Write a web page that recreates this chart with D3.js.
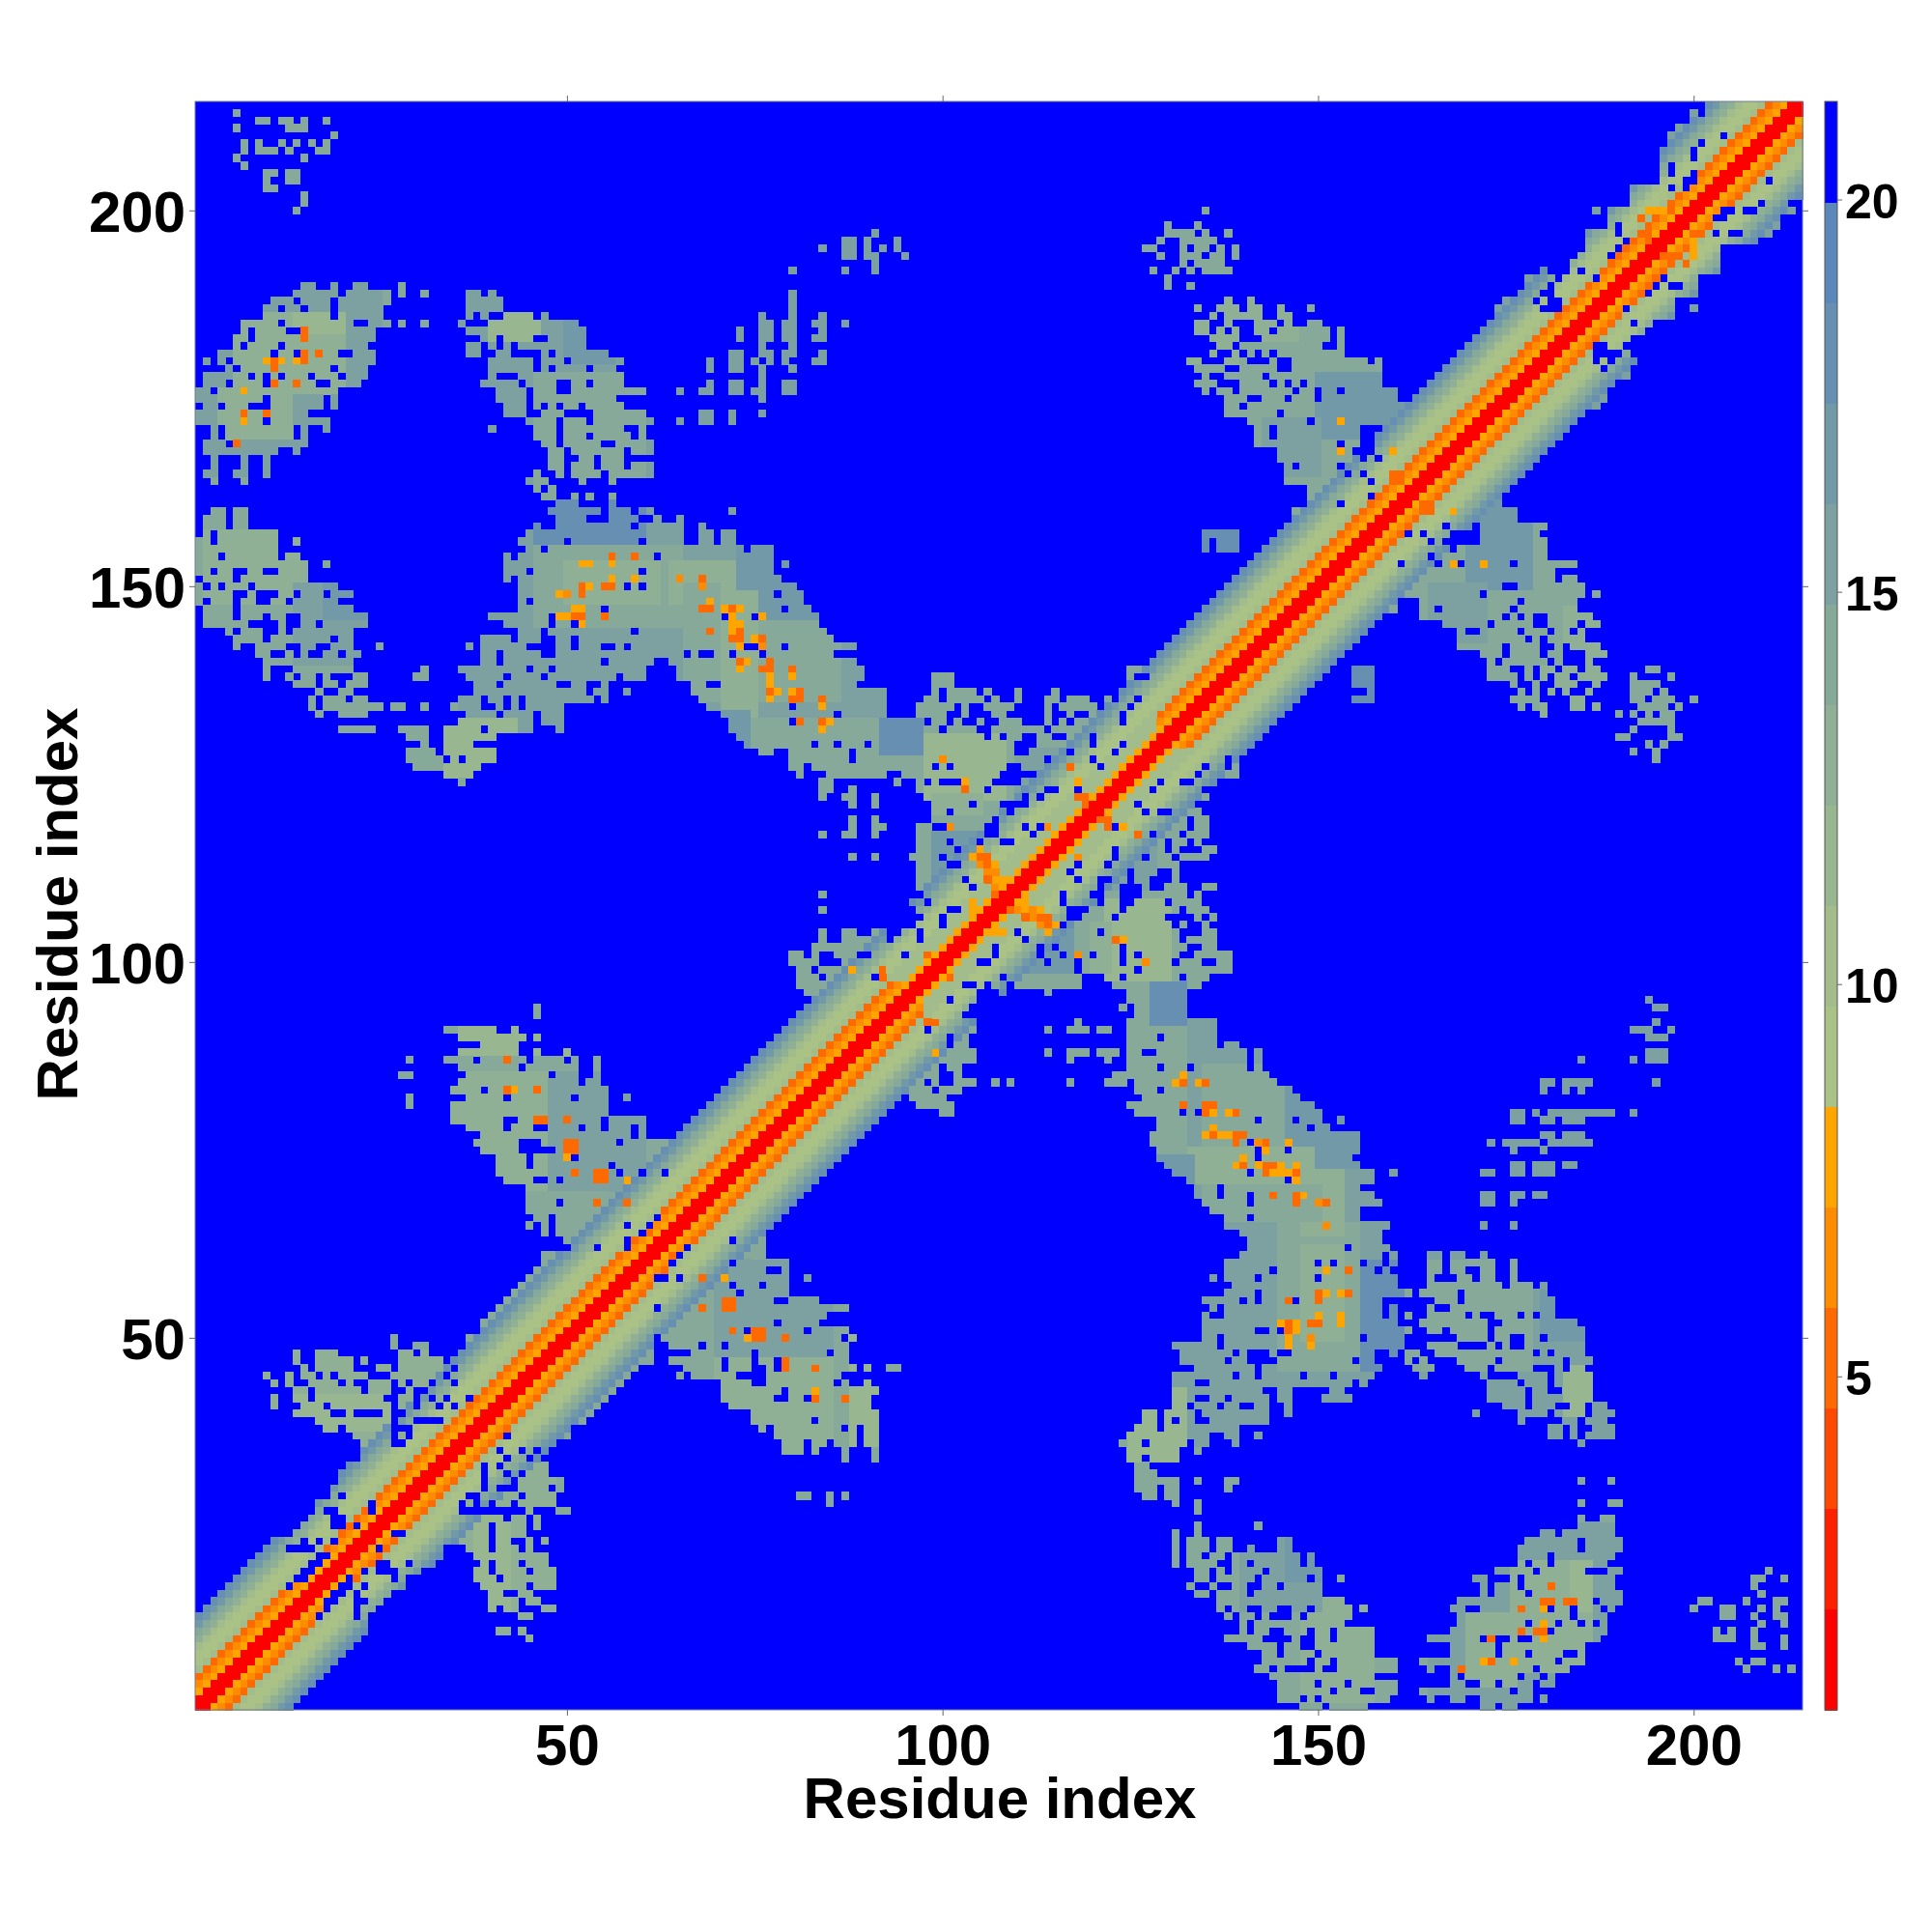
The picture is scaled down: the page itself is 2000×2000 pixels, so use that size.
<!DOCTYPE html>
<html><head><meta charset="utf-8">
<script src="https://cdn.jsdelivr.net/npm/d3@7"></script>
<style>html,body{margin:0;background:#fff}text{font-family:"Liberation Sans",Arial,sans-serif;font-weight:bold;fill:#000}</style>
</head><body><div id="chart"></div>
<script>
const residueCount = 214;
const axisTicks = [50,100,150,200];
const colorbarTicks = [5,10,15,20];
const axisTitle = "Residue index";
// 16 colour levels, bottom to top
const levelColors = ["#ff0000","#ff2000","#ff4800","#ff6a00","#ff8c00","#ffa500","#abc287","#a2bd8b","#98b68f","#8fb094","#86a99a","#7ca1a0","#7299a8","#668fb1","#5b87ba","#0000ff"];
const colorbarDomain = [0.75,21.25];
// level by distance from the diagonal, read along a row
const bandLevels = [0,0,5,4,3,7,6,6,7,9,10,12,13];
const narrowCoreLevels = [0,0,5,7,7];
// [from mid-residue, to mid-residue, widest offset drawn as an unbroken band]
const bandRuns = [[0,18,12],[18.5,44.5,4],[45,70,13],[70.5,92,12],[92.5,132.5,4],[133,214,12]];
const narrowCoreRun = [96,130];
// upper-left half of the map, "row: column spans"
const clusterRows = [
"213:6","212:9-10,12-13,15,18","211:6,13-15","210:19","209:7,9,12,14,16,18","208:7,9-11,13,17-18","207:6,15","206:7","205:10-11,13-14","204:10,13-14","203:10-11","202:15","201:15","200:14",
"190:15-16,19,22-23,28","189:14-19,21-26,28,31,37-38,40","188:11-13,15-18,20-26,37-41","187:10-11,13-14,16-18,20-25,37-41","186:10-18,20-25,37,39,42-45,47","185:7-11,13-21,24-26,28,31,36,40-51","184:7,9-12,15-24,37-39,40-52","183:6-7,9-24,39-40,42-45,48-52","182:6,8-11,13-23,37-38,40,42,44-52","181:4-10,12-13,15-19,22-24,37-38,41-42,47,49-55","180:2,4,6-24,40-45,47-49,51-57","179:5,7-18,20-23,40-45,47,49-52,54-56","178:2-7,9,11,13-15,17-19,21-23,40,44-57","177:2-4,6-9,11-16,19-22,39-43,45-48,51-52,54-57","176:1-2,4-19,41-44,46-48,51-60","175:1-9,11-17,19,41-44,46-56","174:2-3,5-7,11-17,19,42-44,46,48,50-51,53-57","173:1-15,42-44,47-49,54-60","172:1-9,11-18,45-48,50-52,54-61","171:3,5-13,15,18,40,46-48,50-57,60","170:3,5-13,15,46-48,50-52,54-58,60","169:2-4,6-15,47-48,50-54,57-61","168:2-11,14,48-49,51-57,59-61","167:3,7,10,48-49,52-53,55-57","166:3,7,10,48-49,51-53,55-57,59-61","165:2-3,6-7,10,46,49,51-54,56-61","164:3,7,45-47,52,56","163:46,48","162:47-48,51,53,56","161:49-51,56",
"160:3-4,6-7,48-54,56-58,60-61,72","159:2-4,6-7,49-52,56-59,62,65","158:2-4,6-7,46,49-58,60-65,68","157:2,4-11,45-65,68-69,71-72","156:1-2,4-11,14,44-49,51-59,61-65,68-69,71-72","155:1-11,45-46,48-73,75-77","154:1-3,5-11,13-14,42,44-61,63-77","153:1-15,18,42-77,79","152:1-2,4-5,8-9,12-15,42-44,46-59,61-77","151:2-5,7-15,42,44-78","150:1,3,5-7,9-19,44-57,59,61-80","149:1-5,8,12-13,15-17,19-21,44-77,79-81","148:1,3-5,7-8,11-12,14-19,44,46-81","147:2-5,7-21,44-54,56-78,80-82","146:2-5,7-9,11-12,15-23,40-47,49-70,72-74,76-83","145:2-7,12,15-16,18-23,42-47,49-50,52-83","144:5,7-9,12,14-21,44-46,48-58,60-84","143:6-9,11-18,20-21,39-42,44-46,49-50,52-85","142:6,9-12,15-16,19-21,25,37,39-44,49-50,52-54,57,59-73,76-78,80-88","141:9-10,13,15,18-19,21-22,39-40,42-46,49-65,67,70-71,73-75,77-85","140:10-21,39-40,42-54,56-61,64-88","139:10,14-21,31,36-44,46-47,49-60,65-89,125-126","138:10,13,15-16,18,22-23,30-31,37-41,43-46,48-56,58-60,65-89,99-101,125","137:14-16,18-19,21-23,38-40,42-48,51-52,55,67-68,71-88,99-101,125-132","136:17,20-21,38-52,54-55,58,67-92,99,101-104,106,110,115,124-131","135:16,18-20,22-23,36-38,40-41,43,45-53,55,68-92,98-99,101-105,107,110,114-115,117-119,122,124-125,127-130","134:16,18-25,27-28,31,35-38,41,43,45-49,69-79,81-92,97-101,103,106-109,114,116-120,122-124,126-129","133:17,20-23,37-40,42-45,47-49,71-85,87-92,97-100,103,107-108,114,117,120-123,125-128","132:36-45,47-49,72-79,81-97,99-100,102,105,108-110,114,116,118-123,125-127","131:20-24,28-31,34-38,40-45,49,72-99,101-104,107-113,115-126","130:29-31,34-40,73-105,107,109-110,113-114,117-119,121-125","129:31,34-37,74-82,84-85,87-89,91-109,113-119,121-123","128:29-32,34-40,76-77,80-87,89-109,112-116,118-122","127:29-33,35,37-40,80-87,89-113,115-119,121-122","126:30-38,80-81,83-98,100,102-108,111-116,118-120","125:34-37,81,85-92,95-107,113-120","124:36,84-85,94,97,99,103-106,111-119","123:84-85,88,97-105,107-113,116-117","122:84,87-88,91,98-110,112,114-117","121:88,91,99-103,105-107,112-116","120:99-100,102-108,110-115","119:88,91,99-106,108-114","118:88,91-92,97-98,101-105,108-110,112","117:84,87-88,91,97-105,108-111","116:97-100,102-104,106-107,110-111","115:97-101,103-110","114:88,91,96-99,101-109","113:97-100,103-108","112:97-107","111:97-102,104-106","110:97-103,105","109:84,98-104","108:96-97,99-103","107:84,97-100","106:98-99,101","105:97-99",
"104:84,87-88,91-92,95-96,98-99","103:84,87-92,94-96,98","102:83-97","101:80-81,83,86-88,91-94,96","100:80-83,87-95","99:81-82,84-94","98:81-83,85-90,93","97:81-92","96:82-91","95:83-90","94:46,82-89","93:46,81-88","92:80-87",
"91:34-40,43","90:36-44,46","89:39-43","88:36-43,46,50","87:29,34-37,39-44,46-49,51,54","86:36-43,45-51,54","85:28-29,37-47,49-51,54","84:36-51,53-54","83:35-38,40-55","82:29,37-41,43-50,52-55,58","81:29,35-55","80:35-55","79:35-41,44-54,56-60","78:37-41,43-45,48-51,53-54,56-58,60","77:39-58,60","76:38-43,47-56,58-62","75:39-43,49-63","74:41-44,46-50,52-62","73:41-44,46-55,57-59","72:41-56,58","71:42-45,48,50-57","70:45-56","69:45-55","68:45-48,50-54","67:45-53","66:46-47,49-52","65:45,47,49-51","64:47,49-50","61:47",
"50:27,37-45","49:27,30-31,37-44","48:14,17-19,28-29,31,36-43","47:14,17-21,23,28-33,35-42","46:15,17-21,25-26,28-34,36-41","45:10,13,15-16,18,20-23,27-33,35-40","44:11,13,16-19,21,24-26,28,30-31,33-34,36-39","43:14-15,17-22,24-26,29,32-38","42:11,14-15,17-25,28-29,31,33,35-36","41:11,15-17,19-26,28-29,31-32,34,36","40:14-18,21,26,29-35","39:17-26,28-29,34","38:18-19,21-26,30-33","37:22-26,28,30-32","36:23-26,29-31","35:23-30","34:23-29","33:21-28","32:20-27","31:20-26","30:19-25","29:19,21-24","28:17-23","27:17,20-22","26:16-18,21","25:15-18,21","24:14-19","23:14,16,18","22:17","21:16",
"200:135,187","198:130,134","197:130-133,135,138","196:129,132-136","195:127-128,132,134-135,137,139","194:129,132-134,136-137,139","193:132,134-137","192:128,131,133,135-138,180","191:130,178","190:130,133,178-179","189:177","188:138,141,175-176","187:134,137-139,141-142,145,149,174","186:136,138-142,145-146","185:134-135,138,142-144,146,149-150","184:134-135,137,139,142-143,145-151,153","183:136-139,143-151,153","182:137-138,140-150,153","181:136,139,141,143,145-153","180:133-134,138-140,144,147-156,158","179:134-137,140-144,147-158","178:135,138-142,144-158","177:134-136,140-143,145,147,149-158","176:135,137-138,140-146,148-149,151-152,154-160","175:138-140,143-145,147-149,151-160","174:138-139,141-161","173:138-144,146-160","172:141-148,150-159","171:142-143,145-155","170:142-143,145-155","169:142-152,154-155","168:145-154","167:145-154","166:146,148-152","165:146-152","164:146-151","163:149-150","162:149","160:147","157:135-139","156:135,137-139","155:135,137-139",
"213:200","212:200","211:198-199","210:197-198","209:197",
"195:84,87-88,90,92,94","194:87-88,90-91,95","193:91","192:80,87,91","197:91","196:87-88,90,94","189:80","188:80","187:80","186:76,80,84","185:76-77,79-80,83-84,87","184:73,76-77,79-80,84","183:73,76-77,79-80,83-84","182:76,80","181:72-73,76-77,79-80,84","180:69,72-73,75,77,79,83-84","179:69,72-73,76,80","178:76","177:69,72-73,76,79-80","176:65,68-69,72-73,75-76,79-80","175:76","173:68-69,72,76","172:65,68-69,72"
];
// [first column, first row, last column, last row, level] tone read from the clusters
const tonePatches = [
[60,170,100,200,11],[1,165,25,190,11],[4,170,13,176,9],[6,176,20,186,9],[14,184,20,186,8],
[36,160,62,190,11],[40,183,46,186,8],[46,162,60,178,10],[50,180,56,186,12],
[1,137,25,160,10],[2,148,15,157,9],[14,140,23,150,11],[18,146,25,150,12],
[36,125,92,161,11],[34,125,43,132,8],[46,145,65,155,10],[50,148,62,153,9],[64,148,72,153,9],[66,135,86,150,10],[71,132,75,150,9],[74,125,92,132,10],[46,156,60,161,13],[66,128,74,133,12],[76,146,84,154,12],[92,128,97,132,13],[73,150,78,156,12],
[98,105,126,137,10],[98,122,108,130,8],[99,120,105,122,9],[99,106,105,117,12],[110,122,118,128,11],[125,131,130,137,11],
[80,92,98,104,10],[34,62,60,91,10],[35,70,50,85,9],[36,88,50,91,8],[48,70,60,85,11],
[10,35,36,48,9],[14,38,26,42,8],
[133,155,160,200,10],[133,180,147,188,9],[140,172,152,182,10],[150,170,162,178,12],[143,165,150,172,11],[135,155,139,157,13],[177,187,182,192,12],[170,185,200,214,11]
];
// [column, row, level]
const hotCells = [
[15,184,3],[15,183,3],[15,181,3],[17,181,3],[10,180,5],[11,180,3],[12,180,5],[14,180,5],[15,180,3],[11,179,3],[11,177,3],[14,177,3],[7,176,5],[7,173,3],[10,173,3],[7,172,5],[6,169,3],
[56,154,3],[59,154,3],[52,153,5],[53,153,5],[56,153,5],[56,151,5],[59,151,5],[52,150,3],[53,150,5],[55,150,3],[56,150,3],[49,149,5],[50,149,4],[52,149,3],[51,147,5],[52,147,5],[49,146,5],[50,146,5],[51,146,3],[52,146,3],[55,146,3],[52,145,5],
[65,151,4],[68,151,3],[68,150,4],[69,148,5],[68,147,3],[69,147,3],[71,147,5],[72,147,3],[73,147,5],[72,146,5],[76,146,5],[72,145,5],[73,145,5],[69,144,3],[72,144,5],[73,144,3],[72,143,3],[73,143,3],[75,143,5],[76,143,3],[73,142,5],[76,142,4],[73,140,3],[74,140,5],[77,140,3],[73,139,5],[76,139,3],[77,139,3],[80,139,3],[77,138,5],[80,138,5],[77,137,5],[77,136,3],[78,136,5],[80,136,5],[81,136,3],[77,135,5],[80,135,3],[81,135,3],[84,135,3],[84,134,5],[81,132,3],[84,132,3],[85,132,5],[84,131,5],
[100,127,4],[103,124,5],[103,123,3],[117,126,3],[118,124,5],[118,122,3],[119,122,3],[119,121,3],[101,118,4],[114,118,4],[105,115,5],[104,114,5],[105,114,3],[106,114,3],[105,113,4],[106,113,3],[107,113,5],[106,112,4],[107,112,4],[106,111,3],[107,111,5],[108,111,5],[109,111,5],[107,110,4],[108,110,5],[107,109,3],[104,108,5],[106,108,5],[104,107,5],[104,106,5],[88,99,5],[92,99,3],[92,98,3],[98,101,3],[98,100,5],
[42,87,3],[42,83,3],[43,83,5],[46,83,3],[46,79,3],[47,79,3],[50,79,3],[50,76,3],[51,76,3],[50,75,3],[51,75,3],[50,74,5],[51,72,3],[54,72,3],[55,72,3],[54,71,3],[55,71,3],[58,71,5],[54,68,3],[58,68,3],[61,64,3],
[153,172,5],[153,168,5],[160,168,5],[160,165,3],[161,165,3],[160,164,3],[161,164,3],
[194,200,5],[195,200,5],[196,200,5],[197,200,3],[198,200,5],[193,199,3],[193,197,3],[194,197,3],[195,197,5],[194,196,3],[196,198,5]
];
// blue cells inside the band, as [row, column]
const blueHoles = [
[17,13],[18,14],[18,15],[19,15],[19,16],[20,16],[20,17],[21,17],[21,18],[22,13],[22,14],[22,15],[22,16],[23,15],[23,17],[23,19],[24,12],[25,22],[27,24],[28,24],
[66,62],[65,58],[65,61],[64,60],[63,58],[62,49],[62,50],[62,54],[62,58],[72,60],[72,63],
[161,153],[162,157],[164,157],[165,154],[165,156],[167,156],[167,158],[168,156],[168,157],[169,157],
[204,192],[204,193],[204,194],[204,195],[205,193],[205,194],[205,195],[206,194],[206,195],[207,195],[203,191],[202,190],[202,191],[201,189],[201,190],[201,191],[200,188],[199,187],[199,188],[198,186],[198,187],[198,188],[197,185],[196,184],[196,185],[195,183],[195,184],[195,185],[194,182],[194,183],[194,184],[193,181],[193,182],[193,183],[192,181],[192,182],[192,183],[191,182],[190,181],[189,180],[189,181],[188,179],[188,181],[188,182],[187,180],[187,181],[187,182],
[192,185],[191,187],[194,189],[195,190],[196,191],[197,190],[198,190],[210,204],[209,201],[208,200],[207,200],[206,197],[205,197],[205,200],[204,199],[204,200],[203,197],[203,199],[213,201]
];

const plot = {left:202, right:1866, top:105, bottom:1770};
const bar = {left:1889, right:1902};
const svg = d3.select("#chart").append("svg").attr("width",2000).attr("height",2000);
const x = d3.scaleLinear().domain([0.5,residueCount+0.5]).range([plot.left,plot.right]);
const y = d3.scaleLinear().domain([0.5,residueCount+0.5]).range([plot.bottom,plot.top]);
const barY = d3.scaleLinear().domain(colorbarDomain).range([plot.bottom,plot.top]);
const color = d3.scaleOrdinal(d3.range(16),levelColors);

const grid = new Map();
const key = (r,c)=>r*1000+c;
function patchLevel(c,r){
  let lv = 10;
  tonePatches.forEach(p=>{ if(c>=p[0]&&c<=p[2]&&r>=p[1]&&r<=p[3]) lv=p[4]; });
  return lv;
}
const inNarrow = m => m>=narrowCoreRun[0] && m<=narrowCoreRun[1];
function toneAt(c,r){
  const off = r-c, m=(r+c)/2;
  if(inNarrow(m) && off<narrowCoreLevels.length) return narrowCoreLevels[off];
  return off<bandLevels.length ? bandLevels[off] : patchLevel(c,r);
}
for(let r=1;r<=residueCount;r++) for(let c=Math.max(1,r-13);c<=r;c++){
  const m=(r+c)/2, off=r-c;
  const run = bandRuns.find(b=>m>=b[0]&&m<=b[1]);
  if(run && off<=run[2]) grid.set(key(r,c),toneAt(c,r));
}
clusterRows.forEach(line=>{
  const [rowText,spec]=line.split(":");
  const r=+rowText;
  spec.split(",").forEach(s=>{
    const [a,b]=s.split("-").map(Number);
    for(let c=a;c<=(b||a);c++) if(c<r) grid.set(key(r,c),toneAt(c,r));
  });
});
blueHoles.forEach(h=>grid.delete(key(h[0],h[1])));
hotCells.forEach(h=>grid.set(key(h[1],h[0]),h[2]));
const cells=[];
grid.forEach((lv,k)=>{
  const r=Math.floor(k/1000), c=k%1000;
  cells.push({c,r,lv});
  if(r!==c) cells.push({c:r,r:c,lv});
});

svg.append("rect").attr("x",x(0.5)).attr("y",y(residueCount+0.5)).attr("width",x(residueCount+0.5)-x(0.5)).attr("height",y(0.5)-y(residueCount+0.5)).attr("fill",levelColors[15]);
svg.append("g").attr("shape-rendering","crispEdges").selectAll("rect").data(cells).join("rect")
  .attr("x",d=>x(d.c-0.5)).attr("y",d=>y(d.r+0.5))
  .attr("width",d=>x(d.c+0.5)-x(d.c-0.5)+0.5).attr("height",d=>y(d.r-0.5)-y(d.r+0.5)+0.5)
  .attr("fill",d=>color(d.lv));

svg.append("rect").attr("x",plot.left).attr("y",plot.top).attr("width",plot.right-plot.left).attr("height",plot.bottom-plot.top).attr("fill","none").attr("stroke","#6f7f8f").attr("stroke-width",1);

const tickStroke="#666";
const styleAxis=(g,fs)=>{g.select(".domain").remove();g.selectAll("line").attr("stroke",tickStroke).attr("stroke-width",1);g.selectAll("text").attr("font-size",fs).attr("fill","#000");};
svg.append("g").attr("transform",`translate(0,${plot.bottom})`).call(d3.axisBottom(x).tickValues(axisTicks).tickSize(6).tickPadding(8)).call(styleAxis,60);
svg.append("g").attr("transform",`translate(0,${plot.top})`).call(d3.axisTop(x).tickValues(axisTicks).tickSize(6).tickFormat("")).call(styleAxis,60);
const leftAxis = svg.append("g").attr("transform",`translate(${plot.left},0)`).call(d3.axisLeft(y).tickValues(axisTicks).tickSize(6).tickPadding(4)).call(styleAxis,60);
leftAxis.selectAll("text").attr("dy","0.35em").attr("transform","translate(0,1)");
svg.append("g").attr("transform",`translate(${plot.right},0)`).call(d3.axisRight(y).tickValues(axisTicks).tickSize(6).tickFormat("")).call(styleAxis,60);

const step=(colorbarDomain[1]-colorbarDomain[0])/16;
svg.append("g").attr("shape-rendering","crispEdges").selectAll("rect").data(d3.range(16)).join("rect")
  .attr("x",bar.left).attr("width",bar.right-bar.left)
  .attr("y",i=>barY(colorbarDomain[0]+(i+1)*step)).attr("height",i=>barY(colorbarDomain[0]+i*step)-barY(colorbarDomain[0]+(i+1)*step)+0.5)
  .attr("fill",i=>levelColors[i]);
svg.append("rect").attr("x",bar.left).attr("y",plot.top).attr("width",bar.right-bar.left).attr("height",plot.bottom-plot.top).attr("fill","none").attr("stroke","#555").attr("stroke-width",1);
const barAxis = svg.append("g").attr("transform",`translate(${bar.right},0)`).call(d3.axisRight(barY).tickValues(colorbarTicks).tickSize(5).tickPadding(3)).call(styleAxis,50);
barAxis.selectAll("text").attr("transform","translate(0,3)");

svg.append("text").attr("x",1035).attr("y",1882).attr("text-anchor","middle").attr("font-size",60).text(axisTitle);
svg.append("text").attr("transform","translate(80,936) rotate(-90)").attr("text-anchor","middle").attr("font-size",60).text(axisTitle);
</script></body></html>
